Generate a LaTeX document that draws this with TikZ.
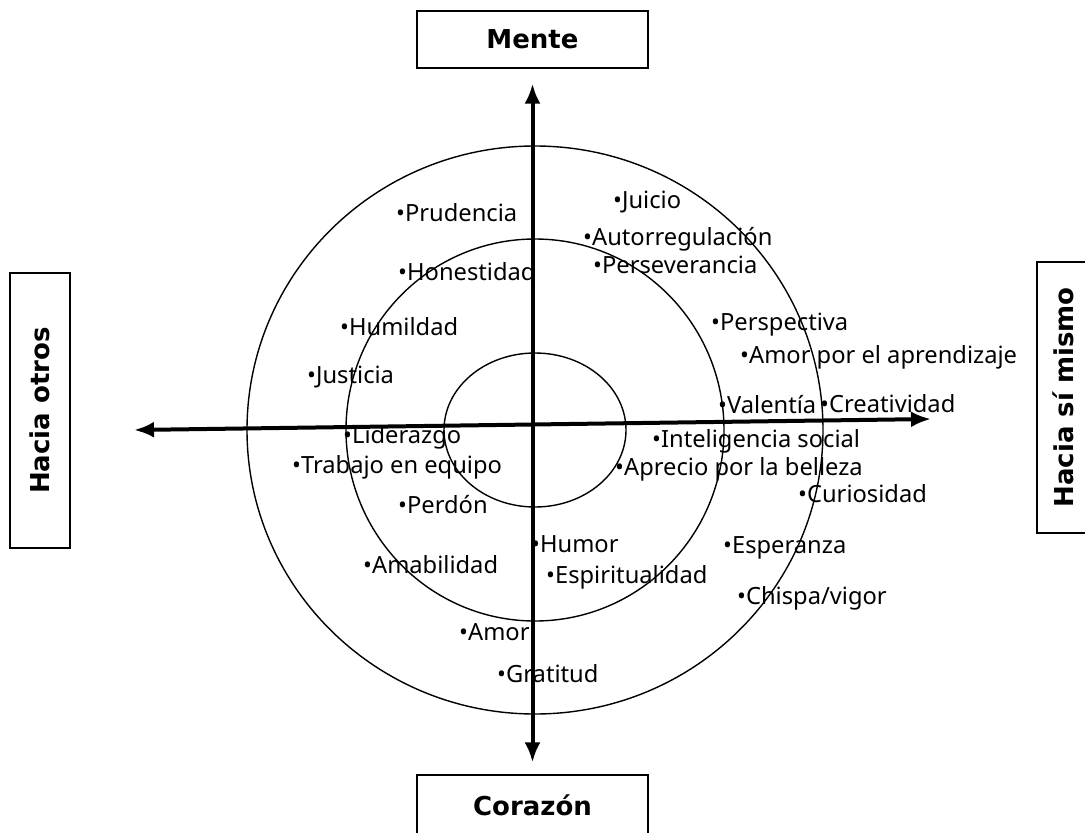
\documentclass[tikz,border=0pt]{standalone}
\usepackage{fontspec}
\usetikzlibrary{arrows.meta}
\newfontfamily\rasgofont{Noto Sans}
\newfontfamily\cajafont{DejaVu Sans}

\begin{document}
\begin{tikzpicture}
  [x=1pt, y=-1pt,
   every node/.style={inner sep=0pt},
   caja/.style={draw, line width=1.2pt, font=\cajafont\bfseries\fontsize{26}{30}\selectfont},
   rasgo/.style={anchor=base west, font=\rasgofont\fontsize{23.7}{28}\selectfont},
   anillo/.style={line width=1.4pt},
   eje/.style={line width=4pt, {Latex[length=20pt,width=16pt]}-{Latex[length=20pt,width=16pt]}}]
  \useasboundingbox (0,0) rectangle (1085,833);
  \clip (0,0) rectangle (1085,833);
  \fill[white] (0,0) rectangle (1085,833);

  \coordinate (centro) at (535,430);
  \draw[anillo] (centro) ellipse [x radius=288, y radius=284];
  \draw[anillo] (centro) ellipse [x radius=189, y radius=191];
  \draw[anillo] (centro) ellipse [x radius=91, y radius=77];

  \node[caja, minimum width=231pt, minimum height=57pt] (mente) at (532.5,39.5) {Mente};
  \node[caja, minimum width=231pt, minimum height=60pt] (corazon) at (532.5,805) {Corazón};
  \node[caja, rotate=90, minimum width=275pt, minimum height=60pt] (otros) at (40,410.5) {Hacia otros};
  \node[caja, rotate=90, minimum width=271pt, minimum height=53pt] (mismo) at (1063.5,397.5) {Hacia sí mismo};

  \coordinate (izquierda) at (134,430);
  \coordinate (derecha) at (931,419);
  \draw[eje] (izquierda) -- (derecha);
  \draw[eje, shorten <=15pt, shorten >=12pt] (mente) -- (corazon);

  \node[rasgo] (prudencia) at (396,221) {•Prudencia};
  \node[rasgo] (honestidad) at (398,280) {•Honestidad};
  \node[rasgo] (humildad) at (340,335) {•Humildad};
  \node[rasgo] (justicia) at (307,383) {•Justicia};
  \node[rasgo] (juicio) at (613,208) {•Juicio};
  \node[rasgo] (autorregulacion) at (583,245) {•Autorregulación};
  \node[rasgo] (perseverancia) at (593,273) {•Perseverancia};
  \node[rasgo] (perspectiva) at (711,330) {•Perspectiva};
  \node[rasgo] (aprendizaje) at (740,363) {•Amor por el aprendizaje};
  \node[rasgo] (valentia) at (718,413) {•Valentía};
  \node[rasgo] (creatividad) at (820,412) {•Creatividad};
  \node[rasgo] (inteligencia) at (652,447) {•Inteligencia social};
  \node[rasgo] (belleza) at (615,475) {•Aprecio por la belleza};
  \node[rasgo] (curiosidad) at (798,502) {•Curiosidad};
  \node[rasgo] (esperanza) at (723,553) {•Esperanza};
  \node[rasgo] (vigor) at (737,604) {•Chispa/vigor};
  \node[rasgo] (liderazgo) at (343,443) {•Liderazgo};
  \node[rasgo] (equipo) at (292,473) {•Trabajo en equipo};
  \node[rasgo] (perdon) at (398,513) {•Perdón};
  \node[rasgo] (humor) at (531,552) {•Humor};
  \node[rasgo] (amabilidad) at (363,573) {•Amabilidad};
  \node[rasgo] (espiritualidad) at (546,583) {•Espiritualidad};
  \node[rasgo] (amor) at (459,640) {•Amor};
  \node[rasgo] (gratitud) at (497,682) {•Gratitud};
\end{tikzpicture}
\end{document}
